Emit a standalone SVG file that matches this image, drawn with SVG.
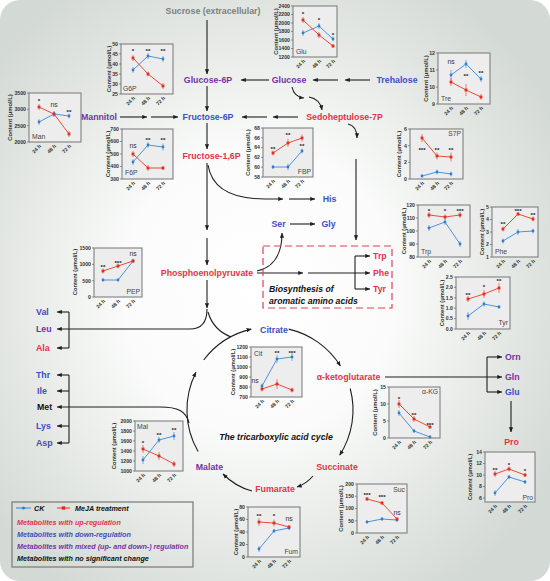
<svg xmlns="http://www.w3.org/2000/svg" width="550" height="581" viewBox="0 0 550 581">
<defs>
<radialGradient id="bg" cx="0.47" cy="0.5" r="0.62">
<stop offset="0" stop-color="#ffffff"/>
<stop offset="0.4" stop-color="#fafbfa"/>
<stop offset="1" stop-color="#d3d9d4"/>
</radialGradient>
<marker id="ah" viewBox="0 0 10 10" refX="9.5" refY="5" markerWidth="5" markerHeight="5" orient="auto" markerUnits="userSpaceOnUse">
<path d="M0,0.8 L10,5 L0,9.2 z" fill="#1e1e1e"/>
</marker>
<style>
text{font-family:'Liberation Sans',Arial,sans-serif}
.bx{fill:#ededed;stroke:#808080;stroke-width:1.1}
.tm{stroke:#555;stroke-width:0.6;fill:none}
.tk{font-size:5.2px;font-weight:bold;text-anchor:end;fill:#333}
.yl{font-size:5.8px;font-weight:bold;text-anchor:middle;fill:#333}
.xl{font-size:5.2px;font-weight:bold;text-anchor:end;fill:#333}
.lc{fill:none;stroke:#4a94dc;stroke-width:1}
.lr{fill:none;stroke:#ec4b3c;stroke-width:1}
.ec{stroke:#4a94dc;stroke-width:0.7}
.er{stroke:#ec4b3c;stroke-width:0.7}
.mc{fill:#2f7fd0}
.mr{fill:#e0301e}
.st{font-size:6.2px;font-weight:bold;text-anchor:middle;fill:#222}
.ns{font-size:6.8px;text-anchor:middle;fill:#333}
.nm{font-size:6.8px;fill:#444}
.nme{font-size:6.8px;fill:#444;text-anchor:end}
.n{font-size:8.8px;font-weight:bold;text-anchor:middle}
.ns0{font-size:8.8px;font-weight:bold}
.r{fill:#e5334b}.b{fill:#3b4fc1}.p{fill:#7b2fa6}.k{fill:#111}.g{fill:#7f7f7f}
.it{font-size:8.7px;font-weight:bold;font-style:italic;fill:#111}
.lg{font-size:7.2px;font-weight:bold;font-style:italic}
.c{fill:none;stroke:#1e1e1e;stroke-width:1.1}
</style>
</defs>
<rect x="0" y="0" width="550" height="581" rx="20" fill="url(#bg)"/>

<g id="connectors">
<path class="c" d="M207,20 V74" marker-end="url(#ah)"/>
<path class="c" d="M269,80 H241" marker-end="url(#ah)"/>
<path class="c" d="M338,80 H313" marker-end="url(#ah)"/>
<path class="c" d="M370,80 H345" marker-end="url(#ah)"/>
<path class="c" d="M292,87 Q294,97 304,98" marker-end="url(#ah)"/>
<path class="c" d="M309,97 Q320,99 322,110" marker-end="url(#ah)"/>
<path class="c" d="M298,117 H273" marker-end="url(#ah)"/>
<path class="c" d="M267,117 H242" marker-end="url(#ah)"/>
<path class="c" d="M120,117 H147" marker-end="url(#ah)"/>
<path class="c" d="M151,117 H178" marker-end="url(#ah)"/>
<path class="c" d="M207,86 V111" marker-end="url(#ah)"/>
<path class="c" d="M207,123 V149" marker-end="url(#ah)"/>
<path class="c" d="M207,163 V230" marker-end="url(#ah)"/>
<path class="c" d="M207,238 V265" marker-end="url(#ah)"/>
<path class="c" d="M208,165 C212,190 235,199 265,199 H283" marker-end="url(#ah)"/>
<path class="c" d="M289,199 H315" marker-end="url(#ah)"/>
<path class="c" d="M348,124 Q357,126 357,138" marker-end="url(#ah)"/>
<path class="c" d="M356,159 V240" marker-end="url(#ah)"/>
<path class="c" d="M290,224 H315" marker-end="url(#ah)"/>
<path class="c" d="M257,271 C272,268 282,256 282,233" marker-end="url(#ah)"/>
<path class="c" d="M257,273 H303" marker-end="url(#ah)"/>
<path class="c" d="M308,273 H370" marker-end="url(#ah)"/>
<path class="c" d="M355,256 V289"/>
<path class="c" d="M355,256 H370" marker-end="url(#ah)"/>
<path class="c" d="M355,289 H370" marker-end="url(#ah)"/>
<path class="c" d="M207,280 V308" marker-end="url(#ah)"/>
<path class="c" d="M207,309 C207,322 202,329 190,329 H57" marker-end="url(#ah)"/>
<path class="c" d="M208,312 C212,326 221,333 231,337"/>
<path class="c" d="M69,312 V348"/>
<path class="c" d="M69,312 H57" marker-end="url(#ah)"/>
<path class="c" d="M69,348 H57" marker-end="url(#ah)"/>
<path class="c" d="M69,375 V443"/>
<path class="c" d="M69,375 H57" marker-end="url(#ah)"/>
<path class="c" d="M69,391 H57" marker-end="url(#ah)"/>
<path class="c" d="M69,426 H57" marker-end="url(#ah)"/>
<path class="c" d="M69,443 H57" marker-end="url(#ah)"/>
<path class="c" d="M189,423 C186,411 178,407 160,407 H57" marker-end="url(#ah)"/>
<path class="c" d="M198.1,451.5 A83,83 0 0 1 196,372.3" marker-end="url(#ah)"/>
<path class="c" d="M203.7,360 A83,83 0 0 1 251.3,329.1" marker-end="url(#ah)"/>
<path class="c" d="M288.7,329.1 A83,83 0 0 1 340.4,366" marker-end="url(#ah)"/>
<path class="c" d="M350.2,388.5 A83,83 0 0 1 339.6,455.2" marker-end="url(#ah)"/>
<path class="c" d="M313,476 Q306,484 297,487" marker-end="url(#ah)"/>
<path class="c" d="M252,491 Q236,487 223,474" marker-end="url(#ah)"/>
<path class="c" d="M385,377 H502" marker-end="url(#ah)"/>
<path class="c" d="M487,357 V392"/>
<path class="c" d="M487,357 H502" marker-end="url(#ah)"/>
<path class="c" d="M487,392 H502" marker-end="url(#ah)"/>
<path class="c" d="M511,401 V432" marker-end="url(#ah)"/>
<rect x="263" y="246" width="129" height="62" fill="none" stroke="#e0404f" stroke-width="1.2" stroke-dasharray="7,4"/>
</g>

<g id="nodes">
<g id="n-sucrose"><text class="n g" x="213" y="14">Sucrose (extracellular)</text></g>
<g id="n-g6p"><text class="n p" x="208" y="83">Glucose-6P</text></g>
<g id="n-glucose"><text class="n p" x="289" y="83">Glucose</text></g>
<g id="n-trehalose"><text class="n b" x="397" y="83">Trehalose</text></g>
<g id="n-mannitol"><text class="n p" x="99" y="120">Mannitol</text></g>
<g id="n-f6p"><text class="n b" x="208" y="120">Fructose-6P</text></g>
<g id="n-s7p"><text class="n r" x="344.5" y="120">Sedoheptulose-7P</text></g>
<g id="n-f16p"><text class="n r" x="211.5" y="159">Fructose-1,6P</text></g>
<g id="n-his"><text class="n b" x="329.5" y="202">His</text></g>
<g id="n-ser"><text class="n b" x="278.5" y="227">Ser</text></g>
<g id="n-gly"><text class="n b" x="328.5" y="227">Gly</text></g>
<g id="n-pep"><text class="n r" x="207" y="276">Phosphoenolpyruvate</text></g>
<g id="n-trp"><text class="ns0 r" x="373" y="259">Trp</text></g>
<g id="n-phe"><text class="ns0 r" x="373" y="276">Phe</text></g>
<g id="n-tyr"><text class="ns0 r" x="373" y="292">Tyr</text></g>
<g id="n-arom"><text class="it" x="269" y="292">Biosynthesis of</text><text class="it" x="269" y="303.5">aromatic amino acids</text></g>
<g id="n-val"><text class="ns0 b" x="36" y="315">Val</text></g>
<g id="n-leu"><text class="ns0 p" x="36" y="332">Leu</text></g>
<g id="n-ala"><text class="ns0 r" x="36" y="351">Ala</text></g>
<g id="n-thr"><text class="ns0 b" x="36" y="378">Thr</text></g>
<g id="n-ile"><text class="ns0 b" x="37" y="394">Ile</text></g>
<g id="n-met"><text class="ns0 k" x="37" y="410">Met</text></g>
<g id="n-lys"><text class="ns0 b" x="36" y="429">Lys</text></g>
<g id="n-asp"><text class="ns0 b" x="36" y="446">Asp</text></g>
<g id="n-citrate"><text class="n b" x="274" y="333">Citrate</text></g>
<g id="n-akg"><text class="n r" x="348.5" y="380">α-ketoglutarate</text></g>
<g id="n-orn"><text class="ns0 p" x="505" y="360">Orn</text></g>
<g id="n-gln"><text class="ns0 p" x="505" y="380">Gln</text></g>
<g id="n-glu"><text class="ns0 b" x="505" y="395">Glu</text></g>
<g id="n-pro"><text class="n r" x="511.5" y="445">Pro</text></g>
<g id="n-succinate"><text class="n r" x="337" y="470">Succinate</text></g>
<g id="n-fumarate"><text class="n r" x="275" y="492">Fumarate</text></g>
<g id="n-malate"><text class="n p" x="209.5" y="470">Malate</text></g>
<g id="n-tca"><text class="it" x="276" y="440" text-anchor="middle">The tricarboxylic acid cycle</text></g>
</g>

<g id="chart-glu">
<rect class="bx" x="293" y="6" width="44" height="51"/>
<path class="tm" d="M293,6h-2M293,14.5h-2M293,23h-2M293,31.5h-2M293,40h-2M293,48.5h-2M293,57h-2"/>
<text class="tk" x="290" y="7.8">2400</text><text class="tk" x="290" y="16.3">2200</text><text class="tk" x="290" y="24.8">2000</text><text class="tk" x="290" y="33.3">1800</text><text class="tk" x="290" y="41.8">1600</text><text class="tk" x="290" y="50.3">1400</text><text class="tk" x="290" y="58.8">1200</text>
<text class="yl" transform="translate(278,31.5) rotate(-90)">Content (μmol/L)</text>
<text class="xl" transform="translate(305.5,61.5) rotate(-45)">24 h</text><text class="xl" transform="translate(321.5,61.5) rotate(-45)">48 h</text><text class="xl" transform="translate(335.5,61.5) rotate(-45)">72 h</text>
<path class="ec" d="M303,30v6M319,23v6M333,36.5v5"/><path class="er" d="M303,17v6M319,32v6M333,44v4"/>
<polyline class="lc" points="303,33 319,26 333,39"/><polyline class="lr" points="303,20 319,35 333,46"/>
<g class="mc"><circle cx="303" cy="33" r="1.4"/><circle cx="319" cy="26" r="1.4"/><circle cx="333" cy="39" r="1.4"/></g>
<g class="mr"><rect x="301.6" y="18.6" width="2.8" height="2.8"/><rect x="317.6" y="33.6" width="2.8" height="2.8"/><rect x="331.6" y="44.6" width="2.8" height="2.8"/></g>
<text class="st" x="303" y="16">*</text><text class="st" x="319" y="22">*</text><text class="st" x="333" y="37">*</text>
<text class="nm" x="296" y="54">Glu</text>
</g>

<g id="chart-g6p">
<rect class="bx" x="121" y="44" width="52" height="50"/>
<path class="tm" d="M121,44h-2M121,54h-2M121,64h-2M121,74h-2M121,84h-2M121,94h-2"/>
<text class="tk" x="118" y="45.8">50</text><text class="tk" x="118" y="55.8">45</text><text class="tk" x="118" y="65.8">40</text><text class="tk" x="118" y="75.8">35</text><text class="tk" x="118" y="85.8">30</text><text class="tk" x="118" y="95.8">25</text>
<text class="yl" transform="translate(111,69) rotate(-90)">Content (μmol/L)</text>
<text class="xl" transform="translate(135.5,98.5) rotate(-45)">24 h</text><text class="xl" transform="translate(150.5,98.5) rotate(-45)">48 h</text><text class="xl" transform="translate(165.5,98.5) rotate(-45)">72 h</text>
<path class="ec" d="M133,67v6M148,53v6M163,56v6"/><path class="er" d="M133,55v6M148,71.5v5M163,83v6"/>
<polyline class="lc" points="133,70 148,56 163,59"/><polyline class="lr" points="133,58 148,74 163,86"/>
<g class="mc"><circle cx="133" cy="70" r="1.4"/><circle cx="148" cy="56" r="1.4"/><circle cx="163" cy="59" r="1.4"/></g>
<g class="mr"><rect x="131.6" y="56.6" width="2.8" height="2.8"/><rect x="146.6" y="72.6" width="2.8" height="2.8"/><rect x="161.6" y="84.6" width="2.8" height="2.8"/></g>
<text class="st" x="133" y="53">*</text><text class="st" x="148" y="53">**</text><text class="st" x="163" y="53">**</text>
<text class="nm" x="123" y="91">G6P</text>
</g>

<g id="chart-man">
<rect class="bx" x="29" y="93" width="52" height="49"/>
<path class="tm" d="M29,93h-2M29,109.3h-2M29,125.7h-2M29,142h-2"/>
<text class="tk" x="26" y="94.8">3500</text><text class="tk" x="26" y="111.1">3000</text><text class="tk" x="26" y="127.5">2500</text><text class="tk" x="26" y="143.8">2000</text>
<text class="yl" transform="translate(12,117.5) rotate(-90)">Content (μmol/L)</text>
<text class="xl" transform="translate(41.5,146.5) rotate(-45)">24 h</text><text class="xl" transform="translate(56.5,146.5) rotate(-45)">48 h</text><text class="xl" transform="translate(71.5,146.5) rotate(-45)">72 h</text>
<path class="ec" d="M39,119v6M54,111v6M69,113.5v5"/><path class="er" d="M39,104v6M54,111.5v5M69,131v6"/>
<polyline class="lc" points="39,122 54,114 69,116"/><polyline class="lr" points="39,107 54,114 69,134"/>
<g class="mc"><circle cx="39" cy="122" r="1.4"/><circle cx="54" cy="114" r="1.4"/><circle cx="69" cy="116" r="1.4"/></g>
<g class="mr"><rect x="37.6" y="105.6" width="2.8" height="2.8"/><rect x="52.6" y="112.6" width="2.8" height="2.8"/><rect x="67.6" y="132.6" width="2.8" height="2.8"/></g>
<text class="st" x="39" y="103">*</text><text class="ns" x="54" y="107">ns</text><text class="st" x="69" y="114">**</text>
<text class="nm" x="32" y="139">Man</text>
</g>

<g id="chart-f6p">
<rect class="bx" x="122" y="129" width="51" height="50"/>
<path class="tm" d="M122,129h-2M122,141.5h-2M122,154h-2M122,166.5h-2M122,179h-2"/>
<text class="tk" x="119" y="130.8">700</text><text class="tk" x="119" y="143.3">600</text><text class="tk" x="119" y="155.8">500</text><text class="tk" x="119" y="168.3">400</text><text class="tk" x="119" y="180.8">300</text>
<text class="yl" transform="translate(110,154) rotate(-90)">Content (μmol/L)</text>
<text class="xl" transform="translate(135.5,183.5) rotate(-45)">24 h</text><text class="xl" transform="translate(150.5,183.5) rotate(-45)">48 h</text><text class="xl" transform="translate(165.5,183.5) rotate(-45)">72 h</text>
<path class="ec" d="M133,159v6M148,142v6M163,143.5v7"/><path class="er" d="M133,151v6M148,165v6M163,166v4"/>
<polyline class="lc" points="133,162 148,145 163,147"/><polyline class="lr" points="133,154 148,168 163,168"/>
<g class="mc"><circle cx="133" cy="162" r="1.4"/><circle cx="148" cy="145" r="1.4"/><circle cx="163" cy="147" r="1.4"/></g>
<g class="mr"><rect x="131.6" y="152.6" width="2.8" height="2.8"/><rect x="146.6" y="166.6" width="2.8" height="2.8"/><rect x="161.6" y="166.6" width="2.8" height="2.8"/></g>
<text class="ns" x="133" y="148">ns</text><text class="st" x="148" y="142">**</text><text class="st" x="163" y="142">**</text>
<text class="nm" x="125" y="175">F6P</text>
</g>

<g id="chart-fbp">
<rect class="bx" x="263" y="128" width="50" height="49"/>
<path class="tm" d="M263,128h-2M263,137.8h-2M263,147.6h-2M263,157.4h-2M263,167.2h-2M263,177h-2"/>
<text class="tk" x="260" y="129.8">68</text><text class="tk" x="260" y="139.6">66</text><text class="tk" x="260" y="149.4">64</text><text class="tk" x="260" y="159.2">62</text><text class="tk" x="260" y="169">60</text><text class="tk" x="260" y="178.8">58</text>
<text class="yl" transform="translate(250,152.5) rotate(-90)">Content (μmol/L)</text>
<text class="xl" transform="translate(275.5,181.5) rotate(-45)">24 h</text><text class="xl" transform="translate(290.5,181.5) rotate(-45)">48 h</text><text class="xl" transform="translate(304.5,181.5) rotate(-45)">72 h</text>
<path class="ec" d="M273,165v4M288,163.5v7M302,148.5v5"/><path class="er" d="M273,150.5v5M288,139v8M302,134.5v7"/>
<polyline class="lc" points="273,167 288,167 302,151"/><polyline class="lr" points="273,153 288,143 302,138"/>
<g class="mc"><circle cx="273" cy="167" r="1.4"/><circle cx="288" cy="167" r="1.4"/><circle cx="302" cy="151" r="1.4"/></g>
<g class="mr"><rect x="271.6" y="151.6" width="2.8" height="2.8"/><rect x="286.6" y="141.6" width="2.8" height="2.8"/><rect x="300.6" y="136.6" width="2.8" height="2.8"/></g>
<text class="st" x="273" y="151">**</text><text class="st" x="288" y="137">**</text><text class="st" x="302" y="147.5">**</text>
<text class="nme" x="311" y="174">FBP</text>
</g>

<g id="chart-tre">
<rect class="bx" x="438" y="53" width="52" height="51"/>
<path class="tm" d="M438,53h-2M438,70h-2M438,87h-2M438,104h-2"/>
<text class="tk" x="435" y="54.8">12</text><text class="tk" x="435" y="71.8">11</text><text class="tk" x="435" y="88.8">10</text><text class="tk" x="435" y="105.8">9</text>
<text class="yl" transform="translate(428,78.5) rotate(-90)">Content (μmol/L)</text>
<text class="xl" transform="translate(453.5,108.5) rotate(-45)">24 h</text><text class="xl" transform="translate(468.5,108.5) rotate(-45)">48 h</text><text class="xl" transform="translate(483.5,108.5) rotate(-45)">72 h</text>
<path class="ec" d="M451,70v10M466,60v8M481,76v6"/><path class="er" d="M451,78v8M466,84v12M481,94v6"/>
<polyline class="lc" points="451,75 466,64 481,79"/><polyline class="lr" points="451,82 466,90 481,97"/>
<g class="mc"><circle cx="451" cy="75" r="1.4"/><circle cx="466" cy="64" r="1.4"/><circle cx="481" cy="79" r="1.4"/></g>
<g class="mr"><rect x="449.6" y="80.6" width="2.8" height="2.8"/><rect x="464.6" y="88.6" width="2.8" height="2.8"/><rect x="479.6" y="95.6" width="2.8" height="2.8"/></g>
<text class="ns" x="451" y="64">ns</text><text class="st" x="466" y="78">**</text><text class="st" x="481" y="75">**</text>
<text class="nm" x="441" y="101">Tre</text>
</g>

<g id="chart-s7p">
<rect class="bx" x="410" y="129" width="53" height="50"/>
<path class="tm" d="M410,129h-2M410,145.7h-2M410,162.3h-2M410,179h-2"/>
<text class="tk" x="407" y="130.8">6</text><text class="tk" x="407" y="147.5">4</text><text class="tk" x="407" y="164.1">2</text><text class="tk" x="407" y="180.8">0</text>
<text class="yl" transform="translate(401,154) rotate(-90)">Content (μmol/L)</text>
<text class="xl" transform="translate(424.5,183.5) rotate(-45)">24 h</text><text class="xl" transform="translate(439.5,183.5) rotate(-45)">48 h</text><text class="xl" transform="translate(453.5,183.5) rotate(-45)">72 h</text>
<path class="ec" d="M422,174.5v3M437,169.5v5M451,171.5v5"/><path class="er" d="M422,134v8M437,152.5v7M451,152.5v9"/>
<polyline class="lc" points="422,176 437,172 451,174"/><polyline class="lr" points="422,138 437,156 451,157"/>
<g class="mc"><circle cx="422" cy="176" r="1.4"/><circle cx="437" cy="172" r="1.4"/><circle cx="451" cy="174" r="1.4"/></g>
<g class="mr"><rect x="420.6" y="136.6" width="2.8" height="2.8"/><rect x="435.6" y="154.6" width="2.8" height="2.8"/><rect x="449.6" y="155.6" width="2.8" height="2.8"/></g>
<text class="st" x="422" y="152">***</text><text class="st" x="437" y="152">**</text><text class="st" x="451" y="152">**</text>
<text class="nme" x="461" y="136">S7P</text>
</g>

<g id="chart-trp">
<rect class="bx" x="418" y="205" width="52" height="52"/>
<path class="tm" d="M418,205h-2M418,218h-2M418,231h-2M418,244h-2M418,257h-2"/>
<text class="tk" x="415" y="206.8">120</text><text class="tk" x="415" y="219.8">110</text><text class="tk" x="415" y="232.8">100</text><text class="tk" x="415" y="245.8">90</text><text class="tk" x="415" y="258.8">80</text>
<text class="yl" transform="translate(406,231) rotate(-90)">Content (μmol/L)</text>
<text class="xl" transform="translate(431.5,261.5) rotate(-45)">24 h</text><text class="xl" transform="translate(447.5,261.5) rotate(-45)">48 h</text><text class="xl" transform="translate(462.5,261.5) rotate(-45)">72 h</text>
<path class="ec" d="M429,225v6M445,219v6M460,241v6"/><path class="er" d="M429,212v6M445,214.5v5M460,212v6"/>
<polyline class="lc" points="429,228 445,222 460,244"/><polyline class="lr" points="429,215 445,217 460,215"/>
<g class="mc"><circle cx="429" cy="228" r="1.4"/><circle cx="445" cy="222" r="1.4"/><circle cx="460" cy="244" r="1.4"/></g>
<g class="mr"><rect x="427.6" y="213.6" width="2.8" height="2.8"/><rect x="443.6" y="215.6" width="2.8" height="2.8"/><rect x="458.6" y="213.6" width="2.8" height="2.8"/></g>
<text class="st" x="429" y="213">*</text><text class="st" x="445" y="213">*</text><text class="st" x="460" y="213">***</text>
<text class="nm" x="421" y="254">Trp</text>
</g>

<g id="chart-phe">
<rect class="bx" x="492" y="207" width="46" height="50"/>
<path class="tm" d="M492,207h-2M492,219.5h-2M492,232h-2M492,244.5h-2M492,257h-2"/>
<text class="tk" x="489" y="208.8">5</text><text class="tk" x="489" y="221.3">4</text><text class="tk" x="489" y="233.8">3</text><text class="tk" x="489" y="246.3">2</text><text class="tk" x="489" y="258.8">1</text>
<text class="yl" transform="translate(484,232) rotate(-90)">Content (μmol/L)</text>
<text class="xl" transform="translate(505.5,261.5) rotate(-45)">24 h</text><text class="xl" transform="translate(520.5,261.5) rotate(-45)">48 h</text><text class="xl" transform="translate(535.5,261.5) rotate(-45)">72 h</text>
<path class="ec" d="M503,238.5v5M518,229v6M533,228.5v5"/><path class="er" d="M503,226.5v5M518,212v4M533,216.5v5"/>
<polyline class="lc" points="503,241 518,232 533,231"/><polyline class="lr" points="503,229 518,214 533,219"/>
<g class="mc"><circle cx="503" cy="241" r="1.4"/><circle cx="518" cy="232" r="1.4"/><circle cx="533" cy="231" r="1.4"/></g>
<g class="mr"><rect x="501.6" y="227.6" width="2.8" height="2.8"/><rect x="516.6" y="212.6" width="2.8" height="2.8"/><rect x="531.6" y="217.6" width="2.8" height="2.8"/></g>
<text class="st" x="503" y="226">**</text><text class="st" x="518" y="212.5">***</text><text class="st" x="533" y="216.5">**</text>
<text class="nm" x="495" y="254">Phe</text>
</g>

<g id="chart-tyr">
<rect class="bx" x="456" y="277" width="54" height="52"/>
<path class="tm" d="M456,277h-2M456,287.4h-2M456,297.8h-2M456,308.2h-2M456,318.6h-2M456,329h-2"/>
<text class="tk" x="453" y="278.8">2.5</text><text class="tk" x="453" y="289.2">2.0</text><text class="tk" x="453" y="299.6">1.5</text><text class="tk" x="453" y="310">1.0</text><text class="tk" x="453" y="320.4">0.5</text><text class="tk" x="453" y="330.8">0.0</text>
<text class="yl" transform="translate(444,303) rotate(-90)">Content (μmol/L)</text>
<text class="xl" transform="translate(470.5,333.5) rotate(-45)">24 h</text><text class="xl" transform="translate(486.5,333.5) rotate(-45)">48 h</text><text class="xl" transform="translate(501.5,333.5) rotate(-45)">72 h</text>
<path class="ec" d="M468,312v8M484,301.5v5M499,305v4"/><path class="er" d="M468,296v6M484,290v8M499,283v10"/>
<polyline class="lc" points="468,316 484,304 499,307"/><polyline class="lr" points="468,299 484,294 499,288"/>
<g class="mc"><circle cx="468" cy="316" r="1.4"/><circle cx="484" cy="304" r="1.4"/><circle cx="499" cy="307" r="1.4"/></g>
<g class="mr"><rect x="466.6" y="297.6" width="2.8" height="2.8"/><rect x="482.6" y="292.6" width="2.8" height="2.8"/><rect x="497.6" y="286.6" width="2.8" height="2.8"/></g>
<text class="st" x="468" y="297">**</text><text class="st" x="484" y="289">*</text><text class="st" x="499" y="283">**</text>
<text class="nme" x="508" y="325">Tyr</text>
</g>

<g id="chart-pep">
<rect class="bx" x="94" y="248" width="48" height="49"/>
<path class="tm" d="M94,248h-2M94,264.3h-2M94,280.7h-2M94,297h-2"/>
<text class="tk" x="91" y="249.8">1500</text><text class="tk" x="91" y="266.1">1000</text><text class="tk" x="91" y="282.5">500</text><text class="tk" x="91" y="298.8">0</text>
<text class="yl" transform="translate(77,272) rotate(-90)">Content (μmol/L)</text>
<text class="xl" transform="translate(105.5,301.5) rotate(-45)">24 h</text><text class="xl" transform="translate(120.5,301.5) rotate(-45)">48 h</text><text class="xl" transform="translate(135.5,301.5) rotate(-45)">72 h</text>
<path class="ec" d="M103,278.5v3M118,278.5v3M133,259v4"/><path class="er" d="M103,268.5v5M118,263.5v5M133,259v4"/>
<polyline class="lc" points="103,280 118,280 133,261"/><polyline class="lr" points="103,271 118,266 133,261"/>
<g class="mc"><circle cx="103" cy="280" r="1.4"/><circle cx="118" cy="280" r="1.4"/><circle cx="133" cy="261" r="1.4"/></g>
<g class="mr"><rect x="101.6" y="269.6" width="2.8" height="2.8"/><rect x="116.6" y="264.6" width="2.8" height="2.8"/><rect x="131.6" y="259.6" width="2.8" height="2.8"/></g>
<text class="st" x="103" y="269">**</text><text class="st" x="118" y="265">***</text><text class="ns" x="133" y="256">ns</text>
<text class="nme" x="140" y="294">PEP</text>
</g>

<g id="chart-cit">
<rect class="bx" x="251" y="347" width="51" height="50"/>
<path class="tm" d="M251,347h-2M251,357h-2M251,367h-2M251,377h-2M251,387h-2M251,397h-2"/>
<text class="tk" x="248" y="348.8">1200</text><text class="tk" x="248" y="358.8">1100</text><text class="tk" x="248" y="368.8">1000</text><text class="tk" x="248" y="378.8">900</text><text class="tk" x="248" y="388.8">800</text><text class="tk" x="248" y="398.8">700</text>
<text class="yl" transform="translate(235,372) rotate(-90)">Content (μmol/L)</text>
<text class="xl" transform="translate(264.5,401.5) rotate(-45)">24 h</text><text class="xl" transform="translate(279.5,401.5) rotate(-45)">48 h</text><text class="xl" transform="translate(294.5,401.5) rotate(-45)">72 h</text>
<path class="ec" d="M262,383.5v5M277,355v8M292,353v8"/><path class="er" d="M262,386.5v5M277,379v10M292,387.5v5"/>
<polyline class="lc" points="262,386 277,359 292,357"/><polyline class="lr" points="262,389 277,384 292,390"/>
<g class="mc"><circle cx="262" cy="386" r="1.4"/><circle cx="277" cy="359" r="1.4"/><circle cx="292" cy="357" r="1.4"/></g>
<g class="mr"><rect x="260.6" y="387.6" width="2.8" height="2.8"/><rect x="275.6" y="382.6" width="2.8" height="2.8"/><rect x="290.6" y="388.6" width="2.8" height="2.8"/></g>
<text class="ns" x="255" y="383">ns</text><text class="st" x="277" y="355">**</text><text class="st" x="292" y="355">***</text>
<text class="nm" x="254" y="355.5">Cit</text>
</g>

<g id="chart-akg">
<rect class="bx" x="389" y="387" width="51" height="51"/>
<path class="tm" d="M389,387h-2M389,404h-2M389,421h-2M389,438h-2"/>
<text class="tk" x="386" y="388.8">15</text><text class="tk" x="386" y="405.8">10</text><text class="tk" x="386" y="422.8">5</text><text class="tk" x="386" y="439.8">0</text>
<text class="yl" transform="translate(377,412.5) rotate(-90)">Content (μmol/L)</text>
<text class="xl" transform="translate(401.5,442.5) rotate(-45)">24 h</text><text class="xl" transform="translate(416.5,442.5) rotate(-45)">48 h</text><text class="xl" transform="translate(432.5,442.5) rotate(-45)">72 h</text>
<path class="ec" d="M399,410v6M414,429v4M430,435.5v3"/><path class="er" d="M399,400v8M414,416v6M430,425.5v3"/>
<polyline class="lc" points="399,413 414,431 430,437"/><polyline class="lr" points="399,404 414,419 430,427"/>
<g class="mc"><circle cx="399" cy="413" r="1.4"/><circle cx="414" cy="431" r="1.4"/><circle cx="430" cy="437" r="1.4"/></g>
<g class="mr"><rect x="397.6" y="402.6" width="2.8" height="2.8"/><rect x="412.6" y="417.6" width="2.8" height="2.8"/><rect x="428.6" y="425.6" width="2.8" height="2.8"/></g>
<text class="st" x="399" y="401">*</text><text class="st" x="414" y="417">**</text><text class="st" x="430" y="426.5">***</text>
<text class="nme" x="438" y="394">α-KG</text>
</g>

<g id="chart-mal">
<rect class="bx" x="135" y="421" width="48" height="50"/>
<path class="tm" d="M135,421h-2M135,431h-2M135,441h-2M135,451h-2M135,461h-2M135,471h-2"/>
<text class="tk" x="132" y="422.8">2000</text><text class="tk" x="132" y="432.8">1800</text><text class="tk" x="132" y="442.8">1600</text><text class="tk" x="132" y="452.8">1400</text><text class="tk" x="132" y="462.8">1200</text><text class="tk" x="132" y="472.8">1000</text>
<text class="yl" transform="translate(116,446) rotate(-90)">Content (μmol/L)</text>
<text class="xl" transform="translate(145.5,475.5) rotate(-45)">24 h</text><text class="xl" transform="translate(161.5,475.5) rotate(-45)">48 h</text><text class="xl" transform="translate(176.5,475.5) rotate(-45)">72 h</text>
<path class="ec" d="M143,456v8M159,437v6M174,432v8"/><path class="er" d="M143,445v8M159,452v8M174,461v6"/>
<polyline class="lc" points="143,460 159,440 174,436"/><polyline class="lr" points="143,449 159,456 174,464"/>
<g class="mc"><circle cx="143" cy="460" r="1.4"/><circle cx="159" cy="440" r="1.4"/><circle cx="174" cy="436" r="1.4"/></g>
<g class="mr"><rect x="141.6" y="447.6" width="2.8" height="2.8"/><rect x="157.6" y="454.6" width="2.8" height="2.8"/><rect x="172.6" y="462.6" width="2.8" height="2.8"/></g>
<text class="st" x="143" y="445">*</text><text class="st" x="159" y="437">**</text><text class="st" x="174" y="432">**</text>
<text class="nm" x="137" y="429">Mal</text>
</g>

<g id="chart-suc">
<rect class="bx" x="357" y="484" width="50" height="49"/>
<path class="tm" d="M357,484h-2M357,496.25h-2M357,508.5h-2M357,520.75h-2M357,533h-2"/>
<text class="tk" x="354" y="485.8">200</text><text class="tk" x="354" y="498">150</text><text class="tk" x="354" y="510.3">100</text><text class="tk" x="354" y="522.5">50</text><text class="tk" x="354" y="534.8">0</text>
<text class="yl" transform="translate(343,508.5) rotate(-90)">Content (μmol/L)</text>
<text class="xl" transform="translate(369.5,537.5) rotate(-45)">24 h</text><text class="xl" transform="translate(384.5,537.5) rotate(-45)">48 h</text><text class="xl" transform="translate(399.5,537.5) rotate(-45)">72 h</text>
<path class="ec" d="M367,520.5v3M382,517v4M397,518v4"/><path class="er" d="M367,497v4M382,501v4M397,517.5v3"/>
<polyline class="lc" points="367,522 382,519 397,520"/><polyline class="lr" points="367,499 382,503 397,519"/>
<g class="mc"><circle cx="367" cy="522" r="1.4"/><circle cx="382" cy="519" r="1.4"/><circle cx="397" cy="520" r="1.4"/></g>
<g class="mr"><rect x="365.6" y="497.6" width="2.8" height="2.8"/><rect x="380.6" y="501.6" width="2.8" height="2.8"/><rect x="395.6" y="517.6" width="2.8" height="2.8"/></g>
<text class="st" x="367" y="497">***</text><text class="st" x="382" y="498.5">***</text><text class="ns" x="397" y="515">ns</text>
<text class="nme" x="405" y="492">Suc</text>
</g>

<g id="chart-fum">
<rect class="bx" x="248" y="507" width="52" height="50"/>
<path class="tm" d="M248,507h-2M248,519.5h-2M248,532h-2M248,544.5h-2M248,557h-2"/>
<text class="tk" x="245" y="508.8">80</text><text class="tk" x="245" y="521.3">60</text><text class="tk" x="245" y="533.8">40</text><text class="tk" x="245" y="546.3">20</text><text class="tk" x="245" y="558.8">0</text>
<text class="yl" transform="translate(238,532) rotate(-90)">Content (μmol/L)</text>
<text class="xl" transform="translate(261.5,561.5) rotate(-45)">24 h</text><text class="xl" transform="translate(276.5,561.5) rotate(-45)">48 h</text><text class="xl" transform="translate(291.5,561.5) rotate(-45)">72 h</text>
<path class="ec" d="M259,546v6M274,529v4M289,526v4"/><path class="er" d="M259,518v8M274,519.5v7M289,525v4"/>
<polyline class="lc" points="259,549 274,531 289,528"/><polyline class="lr" points="259,522 274,523 289,527"/>
<g class="mc"><circle cx="259" cy="549" r="1.4"/><circle cx="274" cy="531" r="1.4"/><circle cx="289" cy="528" r="1.4"/></g>
<g class="mr"><rect x="257.6" y="520.6" width="2.8" height="2.8"/><rect x="272.6" y="521.6" width="2.8" height="2.8"/><rect x="287.6" y="525.6" width="2.8" height="2.8"/></g>
<text class="st" x="259" y="518">**</text><text class="st" x="274" y="518">*</text><text class="ns" x="289" y="521">ns</text>
<text class="nme" x="298" y="554">Fum</text>
</g>

<g id="chart-pro">
<rect class="bx" x="485" y="452" width="50" height="50"/>
<path class="tm" d="M485,452h-2M485,463.5h-2M485,475h-2M485,486.5h-2M485,498h-2"/>
<text class="tk" x="482" y="453.8">14</text><text class="tk" x="482" y="465.3">12</text><text class="tk" x="482" y="476.8">10</text><text class="tk" x="482" y="488.3">8</text><text class="tk" x="482" y="499.8">6</text>
<text class="yl" transform="translate(472,477) rotate(-90)">Content (μmol/L)</text>
<text class="xl" transform="translate(497.5,506.5) rotate(-45)">24 h</text><text class="xl" transform="translate(511.5,506.5) rotate(-45)">48 h</text><text class="xl" transform="translate(527.5,506.5) rotate(-45)">72 h</text>
<path class="ec" d="M495,490v6M509,475v4M525,480v4"/><path class="er" d="M495,471v6M509,466.5v5M525,473v4"/>
<polyline class="lc" points="495,493 509,477 525,482"/><polyline class="lr" points="495,474 509,469 525,475"/>
<g class="mc"><circle cx="495" cy="493" r="1.4"/><circle cx="509" cy="477" r="1.4"/><circle cx="525" cy="482" r="1.4"/></g>
<g class="mr"><rect x="493.6" y="472.6" width="2.8" height="2.8"/><rect x="507.6" y="467.6" width="2.8" height="2.8"/><rect x="523.6" y="473.6" width="2.8" height="2.8"/></g>
<text class="st" x="495" y="471.5">**</text><text class="st" x="509" y="466.5">*</text><text class="st" x="525" y="472.5">*</text>
<text class="nme" x="533" y="500">Pro</text>
</g>

<g id="legend">
<rect x="12" y="502" width="181" height="65" fill="none" stroke="#808080" stroke-width="1.3"/>
<line x1="16" y1="508" x2="31" y2="508" stroke="#4a94dc" stroke-width="1.2"/>
<circle cx="23.5" cy="508" r="1.6" fill="#2f7fd0"/>
<text class="lg k" x="34" y="510.5">CK</text>
<line x1="57" y1="508" x2="70" y2="508" stroke="#ec4b3c" stroke-width="1.2"/>
<rect x="61.8" y="506.3" width="3.4" height="3.4" fill="#e0301e"/>
<text class="lg k" x="75" y="510.5">MeJA treatment</text>
<text class="lg r" x="17" y="524.5">Metabolites with up-regulation</text>
<text class="lg b" x="17" y="536.5">Metabolites with down-regulation</text>
<text class="lg p" x="17" y="548.5">Metabolites with mixed (up- and down-) regulation</text>
<text class="lg k" x="17" y="560.5">Metabolites with no significant change</text>
</g>
</svg>
